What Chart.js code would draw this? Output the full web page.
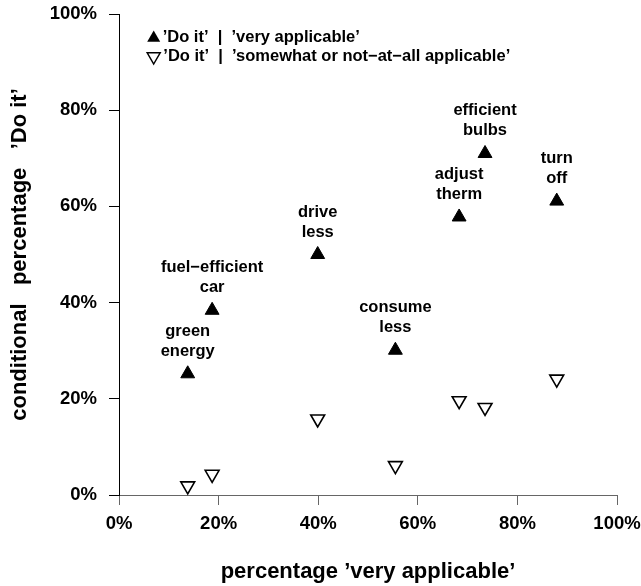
<!DOCTYPE html>
<html>
<head>
<meta charset="utf-8">
<script src="https://cdn.jsdelivr.net/npm/chart.js@4"></script>
<style>
  html, body { margin: 0; padding: 0; background: #fff; }
  canvas { display: block; }
</style>
</head>
<body>
<canvas id="doItChart" width="641" height="586"></canvas>
<script>
/* ==============================
   DATA
============================== */
const pointLabels = [
    ['green', 'energy'],
    ['fuel\u2212efficient', 'car'],
    ['drive', 'less'],
    ['consume', 'less'],
    ['adjust', 'therm'],
    ['efficient', 'bulbs'],
    ['turn', 'off']
];
const pctVeryApplicable  = [13.8, 18.7, 39.9, 55.5, 68.3, 73.5, 87.9];
const doItVeryApplicable = [25.2, 38.4, 50.0, 30.1, 57.8, 71.0, 61.1];
const doItNotApplicable  = [1.9, 4.3, 15.8, 6.1, 19.6, 18.2, 24.1];
const tickValues = [0, 20, 40, 60, 80, 100];

const seriesNames = [
    '\u2019Do it\u2019  |  \u2019very applicable\u2019',
    '\u2019Do it\u2019  |  \u2019somewhat or not\u2212at\u2212all applicable\u2019'
];

const FONT = '"Liberation Sans", Arial, Helvetica, sans-serif';

/* ==============================
   TEXT ABOVE THE FILLED POINTS
============================== */
const pointTextPlugin = {
    id: 'pointText',
    afterDatasetsDraw(chart) {
        const ctx = chart.ctx;
        const meta = chart.getDatasetMeta(0);
        ctx.save();
        ctx.font = 'bold 16.5px ' + FONT;
        ctx.fillStyle = '#000';
        ctx.textAlign = 'center';
        ctx.textBaseline = 'alphabetic';
        meta.data.forEach((pt, i) => {
            ctx.fillText(pointLabels[i][0], pt.x, pt.y - 38);
            ctx.fillText(pointLabels[i][1], pt.x, pt.y - 18);
        });
        ctx.restore();
    }
};

/* ==============================
   LEGEND IN TOP LEFT CORNER
============================== */
function triangle(ctx, cx, cy, r, down) {
    const s = down ? -1 : 1;
    ctx.beginPath();
    ctx.moveTo(cx, cy - s * r);
    ctx.lineTo(cx + r * 0.866, cy + s * r / 2);
    ctx.lineTo(cx - r * 0.866, cy + s * r / 2);
    ctx.closePath();
}

const cornerLegendPlugin = {
    id: 'cornerLegend',
    afterDraw(chart) {
        const ctx = chart.ctx;
        ctx.save();
        ctx.font = 'bold 16.5px ' + FONT;
        ctx.textAlign = 'left';
        ctx.textBaseline = 'alphabetic';
        ctx.fillStyle = '#000';
        ctx.strokeStyle = '#000';

        triangle(ctx, 153.7, 38, 7.5, false);
        ctx.fill();
        triangle(ctx, 153.7, 56.5, 7.5, true);
        ctx.lineWidth = 1.5;
        ctx.stroke();

        ctx.fillText(chart.data.datasets[0].label, 162.7, 41.7);
        ctx.fillText(chart.data.datasets[1].label, 163.3, 60.7);
        ctx.restore();
    }
};

/* ==============================
   CHART
============================== */
const tickFont = { family: FONT, size: 18.5, weight: 'bold' };
const titleFont = { family: FONT, size: 22, weight: 'bold' };

new Chart(document.getElementById('doItChart').getContext('2d'), {
    type: 'scatter',
    data: {
        datasets: [{
            label: seriesNames[0],
            data: pctVeryApplicable.map((x, i) => ({ x: x, y: doItVeryApplicable[i] })),
            pointStyle: 'triangle',
            pointRadius: 8,
            pointHoverRadius: 8,
            pointBackgroundColor: '#000',
            pointBorderColor: '#000',
            pointBorderWidth: 1
        }, {
            label: seriesNames[1],
            data: pctVeryApplicable.map((x, i) => ({ x: x, y: doItNotApplicable[i] })),
            pointStyle: 'triangle',
            pointRotation: 180,
            pointRadius: 8,
            pointHoverRadius: 8,
            pointBackgroundColor: '#fff',
            pointBorderColor: '#000',
            pointBorderWidth: 1.6
        }]
    },
    options: {
        responsive: false,
        animation: false,
        devicePixelRatio: 1,
        clip: false,
        layout: { padding: { top: 14, right: 24, bottom: 0, left: 0 } },
        plugins: {
            legend: { display: false },
            tooltip: { enabled: false }
        },
        scales: {
            x: {
                type: 'linear',
                min: 0,
                max: 100,
                afterBuildTicks: s => { s.ticks = tickValues.map(v => ({ value: v })); },
                afterFit: s => { s.height = 91; s.paddingLeft = 0; s.paddingRight = 0; },
                border: { display: true, color: '#666', width: 1 },
                grid: { drawOnChartArea: false, drawTicks: true, tickLength: 10, color: '#666' },
                ticks: {
                    color: '#000',
                    padding: 8,
                    maxRotation: 0,
                    font: tickFont,
                    callback: v => v + '%'
                },
                title: {
                    display: true,
                    text: 'percentage \u2019very applicable\u2019',
                    color: '#000',
                    font: titleFont,
                    padding: { top: 0, bottom: 1 }
                }
            },
            y: {
                type: 'linear',
                min: 0,
                max: 100,
                afterBuildTicks: s => { s.ticks = tickValues.map(v => ({ value: v })); },
                afterFit: s => { s.width = 119; s.paddingTop = 0; s.paddingBottom = 0; },
                border: { display: true, color: '#000', width: 1 },
                grid: { drawOnChartArea: false, drawTicks: true, tickLength: 10, color: '#000' },
                ticks: {
                    color: '#000',
                    padding: 12,
                    font: tickFont,
                    callback: v => v + '%'
                },
                title: {
                    display: true,
                    text: 'conditional   percentage   \u2019Do it\u2019',
                    color: '#000',
                    font: titleFont,
                    padding: { top: 7, bottom: 0 }
                }
            }
        }
    },
    plugins: [pointTextPlugin, cornerLegendPlugin]
});
</script>
</body>
</html>
